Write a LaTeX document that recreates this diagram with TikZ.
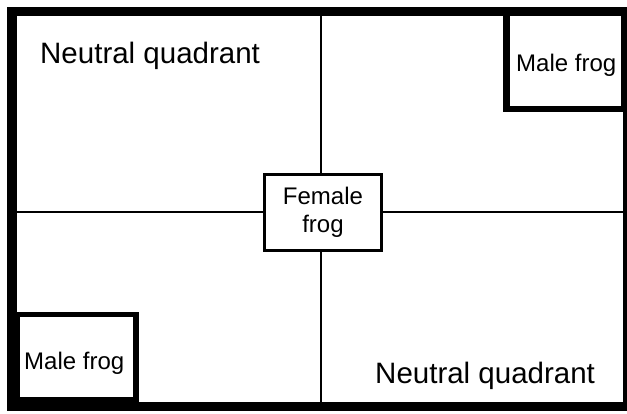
\documentclass[tikz,border=0pt]{standalone}
\usepackage{fontspec}
\setmainfont{Liberation Sans}
\begin{document}
\begin{tikzpicture}[x=1pt,y=-1pt,
  bigtext/.style={font=\fontsize{29.5}{34}\selectfont, inner sep=0pt},
  smalltext/.style={font=\fontsize{24}{28.3}\selectfont, inner sep=0pt},
  divider/.style={line width=2pt},
  frogbox/.style={draw, fill=white, line width=3pt, inner sep=0pt, align=center}]
\useasboundingbox (0,0) rectangle (627,413);
% outer frame (uneven stroke widths)
\fill[black] (7,7) rectangle (627,411);
\fill[white] (17,16) rectangle (623,402);
% quadrant dividers
\coordinate (ntop) at (320.5,16);
\coordinate (nbot) at (320.5,402);
\coordinate (wleft) at (17,211.5);
\coordinate (eright) at (623,211.5);
\draw[divider] (ntop) -- (nbot);
\draw[divider] (wleft) -- (eright);
% male frog boxes in the corners
\fill[black] (503,7) rectangle (627,111.5);
\fill[white] (510,16) rectangle (621,106);
\fill[black] (7,311.5) rectangle (138.5,411);
\fill[white] (20,317) rectangle (133,397);
% female frog in the centre
\node[frogbox, smalltext, minimum width=117pt, minimum height=76pt] (female) at (323,212.5) {Female\\frog};
% labels
\node[bigtext, anchor=base west] (nq1) at (40,63) {Neutral quadrant};
\node[bigtext, anchor=base west] (nq2) at (375,383) {Neutral quadrant};
\node[smalltext, anchor=base west] (male1) at (516,71.5) {Male frog};
\node[smalltext, anchor=base west] (male2) at (24,369.5) {Male frog};
\end{tikzpicture}
\end{document}
